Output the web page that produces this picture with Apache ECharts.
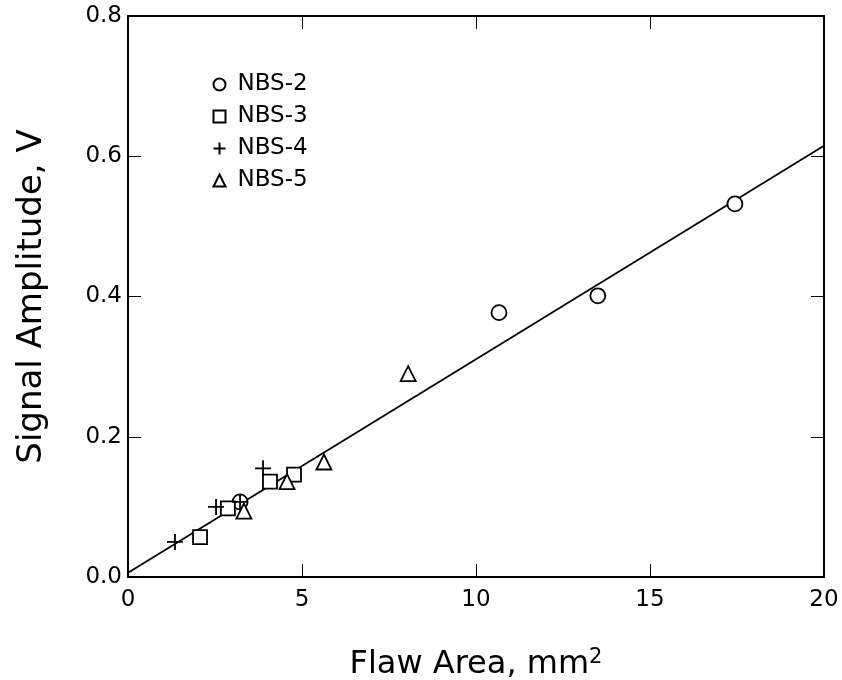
<!DOCTYPE html>
<html>
<head>
<meta charset="utf-8">
<script src="https://cdn.jsdelivr.net/npm/echarts@6/dist/echarts.min.js"></script>
<style>
  html, body { margin: 0; padding: 0; background: #fff; }
  #chart { width: 842px; height: 680px; }
</style>
</head>
<body>
<div id="chart"></div>
<script>
// [flaw area mm2, signal amplitude V]
var nbs2 = [[3.22, 0.107], [10.66, 0.377], [13.5, 0.401], [17.44, 0.532]];
var nbs3 = [[2.07, 0.057], [2.87, 0.098], [4.08, 0.136], [4.77, 0.146]];
var nbs4 = [[1.35, 0.050], [2.53, 0.100], [3.22, 0.107], [3.88, 0.155]];
var nbs5 = [[3.33, 0.094], [4.57, 0.136], [5.63, 0.164], [8.05, 0.290]];
var fitLine = [[0, 0.006], [20, 0.615]];
var seriesNames = ['NBS-2', 'NBS-3', 'NBS-4', 'NBS-5'];

var plusPath = 'path://M5,0 L5,10 M0,5 L10,5';
var font = '"DejaVu Sans", Arial, sans-serif';

var chart = echarts.init(document.getElementById('chart'));

function pointStyle() {
  return { color: '#fff', borderColor: '#000', borderWidth: 1.8, opacity: 1 };
}

var tickStyle = { show: true, inside: true, length: 13, lineStyle: { color: '#000', width: 1 } };
var lineStyle = { show: true, onZero: false, lineStyle: { color: '#000', width: 2 } };

chart.setOption({
  animation: false,
  textStyle: { fontFamily: font },
  grid: { left: 128, right: 18, top: 16, bottom: 103, outerBoundsMode: 'none', containLabel: false },
  legend: {
    orient: 'vertical',
    left: 206,
    top: 68,
    itemGap: 9,
    itemWidth: 12,
    itemHeight: 12,
    data: seriesNames,
    textStyle: { fontFamily: font, fontSize: 23, lineHeight: 23, color: '#000', padding: [0, 0, 0, 7] }
  },
  xAxis: [{
    type: 'value', min: 0, max: 20, interval: 5,
    name: '{a|Flaw Area, mm}{s|2}',
    nameLocation: 'middle', nameGap: 70,
    nameTextStyle: {
      rich: {
        a: { fontFamily: font, fontSize: 32, color: '#000' },
        s: { fontFamily: font, fontSize: 21, color: '#000', verticalAlign: 'top', padding: [0, 0, 14, 0] }
      }
    },
    axisLine: lineStyle,
    axisTick: tickStyle,
    axisLabel: { fontSize: 23, color: '#000', margin: 12, fontFamily: font },
    splitLine: { show: false }
  }, {
    type: 'value', min: 0, max: 20, interval: 5, position: 'top',
    axisLine: lineStyle,
    axisTick: tickStyle,
    axisLabel: { show: false },
    splitLine: { show: false }
  }],
  yAxis: [{
    type: 'value', min: 0, max: 0.8, interval: 0.2,
    name: 'Signal Amplitude, V',
    nameLocation: 'middle', nameGap: 79,
    nameTextStyle: { fontFamily: font, fontSize: 34, color: '#000' },
    axisLine: lineStyle,
    axisTick: tickStyle,
    axisLabel: {
      fontSize: 23, color: '#000', margin: 6, fontFamily: font,
      formatter: function (v) { return v.toFixed(1); }
    },
    splitLine: { show: false }
  }, {
    type: 'value', min: 0, max: 0.8, interval: 0.2, position: 'right',
    axisLine: lineStyle,
    axisTick: tickStyle,
    axisLabel: { show: false },
    splitLine: { show: false }
  }],
  series: [{
    name: 'fit', type: 'line', data: fitLine, showSymbol: false,
    lineStyle: { color: '#000', width: 1.8 }, silent: true, z: 1
  }, {
    name: 'NBS-2', type: 'scatter', data: nbs2, symbol: 'circle', symbolSize: 15,
    itemStyle: pointStyle()
  }, {
    name: 'NBS-3', type: 'scatter', data: nbs3, symbol: 'rect', symbolSize: 14,
    itemStyle: pointStyle()
  }, {
    name: 'NBS-4', type: 'scatter', data: nbs4, symbol: plusPath, symbolSize: 16,
    itemStyle: { color: 'none', borderColor: '#000', borderWidth: 1.8, opacity: 1 }
  }, {
    name: 'NBS-5', type: 'scatter', data: nbs5, symbol: 'triangle', symbolSize: 15,
    itemStyle: pointStyle()
  }]
});
</script>
</body>
</html>
